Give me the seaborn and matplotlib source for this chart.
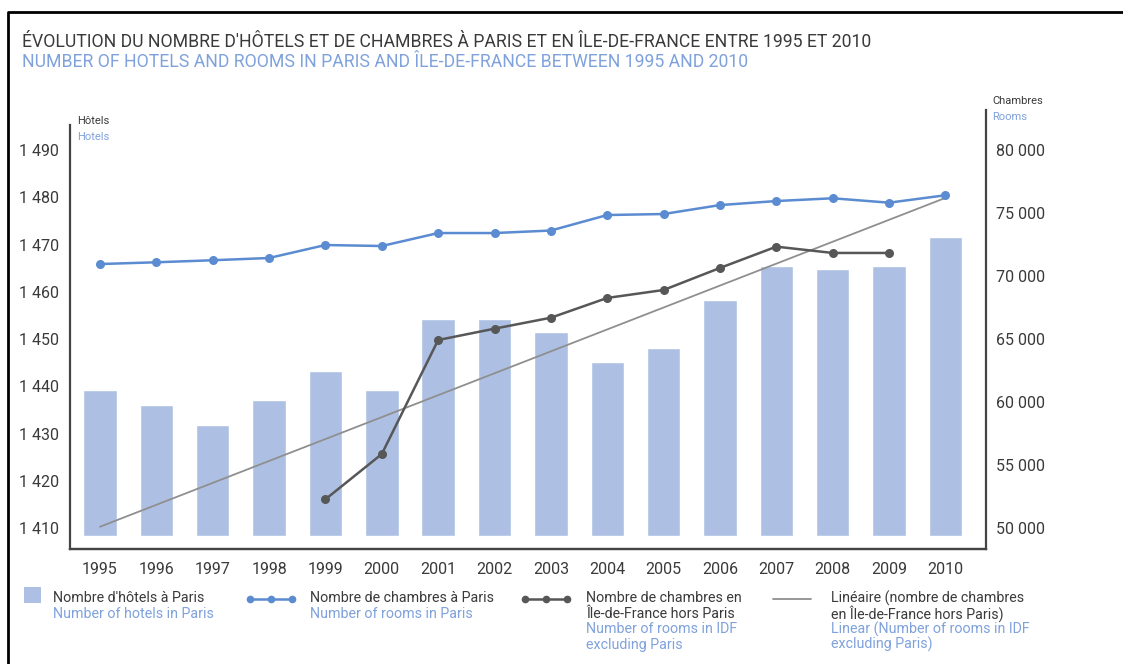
import numpy as np
import matplotlib.pyplot as plt
import seaborn as sns
from matplotlib.lines import Line2D
from matplotlib.patches import Rectangle

# data
years = [1995, 1996, 1997, 1998, 1999, 2000, 2001, 2002,
         2003, 2004, 2005, 2006, 2007, 2008, 2009, 2010]
hotels_paris = [1439.2, 1436.0, 1431.8, 1437.1, 1443.3, 1439.3, 1454.2, 1454.2,
                1451.4, 1445.2, 1448.0, 1458.3, 1465.5, 1464.8, 1465.5, 1471.6]
rooms_paris = [70950, 71090, 71250, 71430, 72460, 72380, 73410, 73410,
               73610, 74840, 74920, 75630, 75950, 76170, 75820, 76410]
rooms_idf = [np.nan, np.nan, np.nan, np.nan, 52280, 55870, 64920, 65820,
             66690, 68260, 68890, 70640, 72330, 71830, 71830, np.nan]
trend_years = [1995, 2010]
trend_rooms = [50100, 76200]
hotel_ticks = list(range(1410, 1491, 10))
room_ticks = list(range(50000, 80001, 5000))

BAR = "#adc0e4"
BLUE = "#5b8bd0"
DARK = "#575757"
TREND = "#8f8f8f"
TXT = "#3a3a3a"
EN = "#7fa1dc"

sns.set_style("white")
plt.rcParams['font.family'] = ['Roboto', 'DejaVu Sans']

W, H = 1123, 664
fig = plt.figure(figsize=(W / 100, H / 100), dpi=100)
ax = fig.add_axes([70 / W, 1 - 549 / H, (986 - 70) / W, (549 - 110) / H])
ax2 = ax.twinx()

pos = np.arange(len(years))
sns.barplot(x=years, y=hotels_paris, color=BAR, saturation=1, width=0.594, ax=ax)
bar_base = 1408.3
for bar, v in zip(ax.patches, hotels_paris):
    bar.set_y(bar_base)
    bar.set_height(v - bar_base)

trend_pos = [years.index(y) for y in trend_years]
sns.lineplot(x=trend_pos, y=trend_rooms, ax=ax2, color=TREND, lw=1.3)
sns.lineplot(x=pos, y=rooms_idf, ax=ax2, color=DARK, lw=1.8,
             marker='o', markersize=6.5, markeredgewidth=0)
sns.lineplot(x=pos, y=rooms_paris, ax=ax2, color=BLUE, lw=1.8,
             marker='o', markersize=6.5, markeredgewidth=0)

ax.set_xlim(-0.532, 15.72)
ax.set_ylim(1405.56, 1498.47)
ax2.set_ylim(48333, 83176)

ax.set_yticks(hotel_ticks)
ax.set_yticklabels([f"{v:,}".replace(",", " ") for v in hotel_ticks])
ax2.set_yticks(room_ticks)
ax2.set_yticklabels([f"{v:,}".replace(",", " ") for v in room_ticks])
ax.set_xticks(pos)
ax.set_xticklabels([str(y) for y in years])

ax.tick_params(axis='y', length=0, pad=8, labelsize=11.5, labelcolor=TXT)
ax2.tick_params(axis='y', length=0, pad=7, labelsize=11.5, labelcolor=TXT)
ax.tick_params(axis='x', length=0, pad=9, labelsize=11.5, labelcolor=TXT)
ax.set_xlabel("")
ax.set_ylabel("")
ax2.set_ylabel("")

for a in (ax, ax2):
    a.spines['top'].set_visible(False)
    for s in ('left', 'right', 'bottom'):
        a.spines[s].set_color("#444444")
        a.spines[s].set_linewidth(1.6)
ax2.spines['left'].set_visible(False)
ax.spines['right'].set_visible(False)
ax.spines['left'].set_bounds(1405.56, 1495.3)

# axis captions
fig.text(77 / W, 1 - 121 / H, "Hôtels", fontsize=8, color=TXT, va='center')
fig.text(77 / W, 1 - 137 / H, "Hotels", fontsize=8, color=EN, va='center')
fig.text(992 / W, 1 - 101 / H, "Chambres", fontsize=8, color=TXT, va='center')
fig.text(992 / W, 1 - 117 / H, "Rooms", fontsize=8, color=EN, va='center')

# titles
fig.text(22 / W, 1 - 42 / H,
         "ÉVOLUTION DU NOMBRE D'HÔTELS ET DE CHAMBRES À PARIS ET EN ÎLE-DE-FRANCE ENTRE 1995 ET 2010",
         fontsize=12.7, color=TXT, va='center')
fig.text(22 / W, 1 - 62 / H,
         "NUMBER OF HOTELS AND ROOMS IN PARIS AND ÎLE-DE-FRANCE BETWEEN 1995 AND 2010",
         fontsize=12.7, color=EN, va='center')

# legend built by hand
def fx(px):
    return px / W

def fy(py):
    return 1 - py / H

fig.add_artist(Rectangle((fx(24), fy(603)), 17 / W, 16 / H, transform=fig.transFigure,
                         facecolor=BAR, edgecolor='none'))
fig.add_artist(Line2D([fx(250), fx(292)], [fy(599), fy(599)], transform=fig.transFigure,
                      color=BLUE, lw=1.8))
fig.add_artist(Line2D([fx(250), fx(271), fx(292)], [fy(599)] * 3, transform=fig.transFigure,
                      color=BLUE, lw=0, marker='o', markersize=5.5, markeredgewidth=0))
fig.add_artist(Line2D([fx(525), fx(567)], [fy(599), fy(599)], transform=fig.transFigure,
                      color=DARK, lw=1.8))
fig.add_artist(Line2D([fx(525), fx(546), fx(567)], [fy(599)] * 3, transform=fig.transFigure,
                      color=DARK, lw=0, marker='o', markersize=5.5, markeredgewidth=0))
fig.add_artist(Line2D([fx(773), fx(811)], [fy(599), fy(599)], transform=fig.transFigure,
                      color=TREND, lw=1.3))

legend_entries = [
    (53, ["Nombre d'hôtels à Paris"], ["Number of hotels in Paris"]),
    (310, ["Nombre de chambres à Paris"], ["Number of rooms in Paris"]),
    (586, ["Nombre de chambres en", "Île-de-France hors Paris"],
     ["Number of rooms in IDF", "excluding Paris"]),
    (831, ["Linéaire (nombre de chambres", "en Île-de-France hors Paris)"],
     ["Linear (Number of rooms in IDF", "excluding Paris)"]),
]
for x0, fr, en in legend_entries:
    lines = [(t, TXT) for t in fr] + [(t, EN) for t in en]
    for i, (t, c) in enumerate(lines):
        fig.text(fx(x0), fy(598 + i * 15.5), t, fontsize=10.3, color=c, va='center')

# outer frame
fig.add_artist(Line2D([fx(8), fx(8), fx(W + 5)], [fy(H + 5), fy(12), fy(12)],
                      transform=fig.transFigure, color='black', lw=2))

fig.savefig("out.png", dpi=100)
